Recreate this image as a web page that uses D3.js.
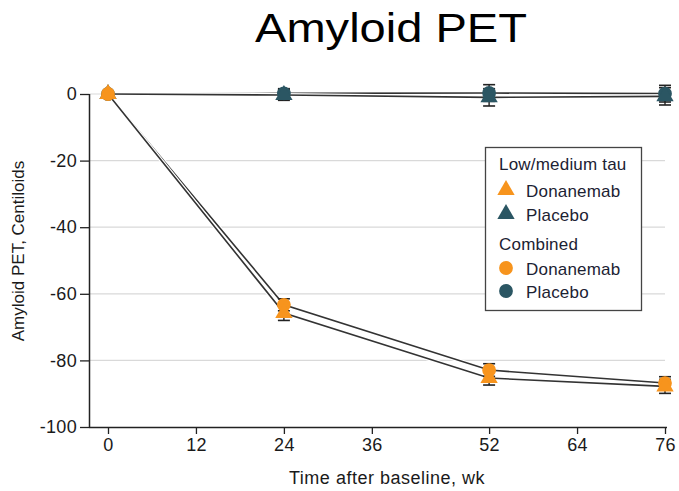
<!DOCTYPE html>
<html>
<head>
<meta charset="utf-8">
<script src="https://cdn.jsdelivr.net/npm/d3@7"></script>
<style>
  html, body { margin: 0; padding: 0; background: #fff; }
  svg text { font-family: "Liberation Sans", Arial, sans-serif; }
</style>
</head>
<body>
<svg id="chart" width="679" height="491"></svg>
<script>
// Weeks after baseline at which amyloid PET was measured
const weeks = [0, 24, 52, 76];
const xTicks = [0, 12, 24, 36, 52, 64, 76];
const yTicks = [0, -20, -40, -60, -80, -100];

// Mean change from baseline in Centiloids, with error-bar half widths
const donaCombined = [0, -63.3, -82.9, -86.8];
const donaCombinedErr = [0, 1.8, 1.9, 1.9];
const donaLowMed = [0, -65.8, -85.3, -87.8];
const donaLowMedErr = [0, 2.2, 2.1, 2.1];
const placCombined = [0, 0.2, 0.3, 0.1];
const placCombinedErr = [0, 1.4, 2.5, 2.5];
const placLowMed = [0, -0.3, -1.0, -0.7];
const placLowMedErr = [0, 1.6, 2.6, 2.6];

const orange = "#F7941D";
const teal = "#2B5663";

const svg = d3.select("#chart");

const x = d3.scaleLinear().domain([0, 76]).range([108, 665]);
const y = d3.scaleLinear().domain([-100, 0]).range([427, 94]);

// Title
svg.append("text")
  .attr("x", 391).attr("y", 42)
  .attr("text-anchor", "middle")
  .attr("font-size", 40)
  .attr("textLength", 272)
  .attr("lengthAdjust", "spacingAndGlyphs")
  .attr("fill", "#000")
  .text("Amyloid PET");

// Horizontal gridlines
svg.append("g").selectAll("line").data(yTicks.filter(d => d !== -100)).join("line")
  .attr("x1", 89).attr("x2", 665)
  .attr("y1", d => y(d)).attr("y2", d => y(d))
  .attr("stroke", "#d9d9d9").attr("stroke-width", 1.2);

// Axes
const yAxis = svg.append("g")
  .attr("transform", "translate(89,0)")
  .call(d3.axisLeft(y).tickValues(yTicks).tickSize(9).tickPadding(3).tickFormat(d3.format("d")));
const xAxis = svg.append("g")
  .attr("transform", `translate(0,${y(-100)})`)
  .call(d3.axisBottom(x).tickValues(xTicks).tickSize(7).tickPadding(4));
xAxis.select(".domain").attr("d", `M89,0.5H667`);
yAxis.select(".domain").attr("d", `M0.5,${y(0)}V${y(-100) + 0.5}`);
[xAxis, yAxis].forEach(a => {
  a.select(".domain").attr("stroke", "#222").attr("stroke-width", 1.5);
  a.selectAll(".tick line").attr("stroke", "#222").attr("stroke-width", 1.3);
  a.selectAll(".tick text").attr("font-size", 18).attr("fill", "#1a1a1a")
    .attr("letter-spacing", 0.3)
    .attr("font-family", "'Liberation Sans', Arial, sans-serif");
});
yAxis.selectAll(".tick text").text(d => d < 0 ? "-" + Math.abs(d) : d);

// Axis titles
svg.append("text")
  .attr("x", 387).attr("y", 484)
  .attr("text-anchor", "middle").attr("font-size", 18).attr("fill", "#1a1a1a")
  .attr("letter-spacing", 0.5)
  .text("Time after baseline, wk");
svg.append("text")
  .attr("transform", "translate(24,251) rotate(-90)")
  .attr("text-anchor", "middle").attr("font-size", 17).attr("fill", "#1a1a1a")
  .text("Amyloid PET, Centiloids");

// Series lines (white casing under a dark stroke)
const series = [
  { v: placCombined, e: placCombinedErr, color: teal, shape: "circle" },
  { v: placLowMed, e: placLowMedErr, color: teal, shape: "triangle" },
  { v: donaCombined, e: donaCombinedErr, color: orange, shape: "circle" },
  { v: donaLowMed, e: donaLowMedErr, color: orange, shape: "triangle" }
];
const line = d3.line().x((d, i) => x(weeks[i])).y(d => y(d));
const lines = svg.append("g");
series.forEach(s => {
  lines.append("path").attr("d", line(s.v)).attr("fill", "none")
    .attr("stroke", "#fff").attr("stroke-width", 4);
  lines.append("path").attr("d", line(s.v)).attr("fill", "none")
    .attr("stroke", "#333").attr("stroke-width", 1.6);
});

// Error bars
const errG = svg.append("g");
series.forEach(s => {
  s.v.forEach((v, i) => {
    if (!s.e[i]) return;
    const cx = x(weeks[i]);
    const top = y(v + s.e[i]), bot = y(v - s.e[i]);
    errG.append("line").attr("x1", cx).attr("x2", cx).attr("y1", top).attr("y2", bot)
      .attr("stroke", "#222").attr("stroke-width", 1.4);
    [top, bot].forEach(yy => errG.append("line")
      .attr("x1", cx - 6).attr("x2", cx + 6).attr("y1", yy).attr("y2", yy)
      .attr("stroke", "#222").attr("stroke-width", 1.6));
  });
});

// Markers
const circleSym = d3.symbol().type(d3.symbolCircle).size(150);
const triSym = d3.symbol().type(d3.symbolTriangle).size(130);
const markG = svg.append("g");
series.forEach(s => {
  markG.selectAll(null).data(s.v).join("path")
    .attr("transform", (d, i) => `translate(${x(weeks[i])},${y(d)})`)
    .attr("d", s.shape === "circle" ? circleSym() : triSym())
    .attr("fill", s.color);
});

// Legend
const legend = svg.append("g");
legend.append("rect")
  .attr("x", 485.5).attr("y", 147.5).attr("width", 156).attr("height", 163)
  .attr("fill", "#fff").attr("stroke", "#444").attr("stroke-width", 1.3);
const legendRows = [
  { label: "Low/medium tau", y: 163, header: true },
  { label: "Donanemab", y: 190, shape: "triangle", color: orange },
  { label: "Placebo", y: 214, shape: "triangle", color: teal },
  { label: "Combined", y: 243, header: true },
  { label: "Donanemab", y: 268, shape: "circle", color: orange },
  { label: "Placebo", y: 291, shape: "circle", color: teal }
];
legendRows.forEach(r => {
  if (r.header) {
    legend.append("text").attr("x", 499).attr("y", r.y + 6.5)
      .attr("font-size", 17).attr("letter-spacing", 0.2)
      .attr("fill", "#1c2233").text(r.label);
  } else {
    legend.append("path")
      .attr("transform", `translate(506,${r.y})`)
      .attr("d", r.shape === "circle" ? circleSym() : triSym())
      .attr("fill", r.color);
    legend.append("text").attr("x", 526).attr("y", r.y + 6.5)
      .attr("font-size", 17).attr("letter-spacing", 0.2)
      .attr("fill", "#1c2233").text(r.label);
  }
});
</script>
</body>
</html>
